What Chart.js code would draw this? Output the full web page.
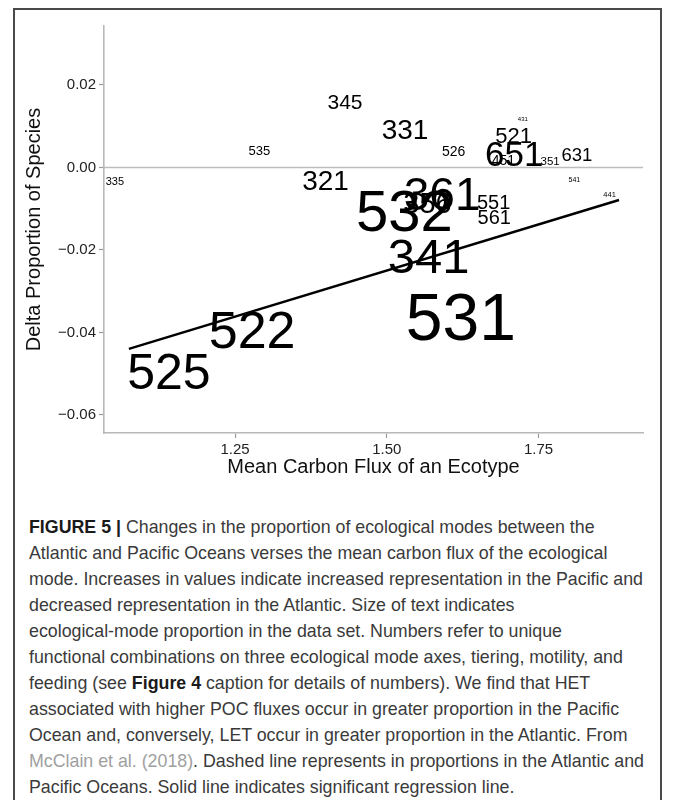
<!DOCTYPE html>
<html>
<head>
<meta charset="utf-8">
<script src="https://cdn.jsdelivr.net/npm/chart.js@4.4.1/dist/chart.umd.min.js"></script>
<style>
  body { margin: 0; background: #fff; }
  #page { position: relative; width: 673px; height: 800px; overflow: hidden; }
  .edge { position: absolute; background: #4a4a4a; }
  #c { position: absolute; left: 0; top: 0; }
  #caption { position: absolute; left: 29px; top: 514px; font-family: 'Liberation Sans', Arial, sans-serif; font-size: 18.5px; line-height: 26px; color: #3a3a3a; white-space: nowrap; transform-origin: 0 0; }
  #caption div span { display: inline-block; }
  #caption b { color: #1a1a1a; }
  .ref { color: #a0a0a0; }
</style>
</head>
<body>
<div id="page">
  <div class="edge" style="left:13px; top:8px; width:648px; height:1.5px;"></div>
  <div class="edge" style="left:13px; top:8px; width:1.5px; height:792px;"></div>
  <div class="edge" style="left:660px; top:8px; width:1.5px; height:792px;"></div>
  <canvas id="c" width="673" height="490"></canvas>
  <div id="caption">
    <div><span><b>FIGURE 5 |</b> Changes in the proportion of ecological modes between the</span></div>
    <div><span>Atlantic and Pacific Oceans verses the mean carbon flux of the ecological</span></div>
    <div><span id="widest">mode. Increases in values indicate increased representation in the Pacific and</span></div>
    <div><span>decreased representation in the Atlantic. Size of text indicates</span></div>
    <div><span>ecological-mode proportion in the data set. Numbers refer to unique</span></div>
    <div><span>functional combinations on three ecological mode axes, tiering, motility, and</span></div>
    <div><span>feeding (see <b>Figure 4</b> caption for details of numbers). We find that HET</span></div>
    <div><span>associated with higher POC fluxes occur in greater proportion in the Pacific</span></div>
    <div><span>Ocean and, conversely, LET occur in greater proportion in the Atlantic. From</span></div>
    <div><span><span class="ref">McClain et al. (2018)</span>. Dashed line represents in proportions in the Atlantic and</span></div>
    <div><span>Pacific Oceans. Solid line indicates significant regression line.</span></div>
  </div>
</div>
<script>
// ecological modes (label text), mean carbon flux, delta proportion, relative share (text size)
const modes      = ['335', '535', '345', '331', '321', '526', '356', '532', '361', '551', '561', '341', '531', '522', '525', '431', '521', '451', '651', '351', '631', '541', '441'];
const fluxX      = [1.052, 1.290, 1.431, 1.530, 1.399, 1.610, 1.567, 1.529, 1.591, 1.676, 1.677, 1.569, 1.622, 1.278, 1.141, 1.724, 1.709, 1.692, 1.710, 1.769, 1.813, 1.809, 1.867];
const deltaY     = [-0.0032, 0.0041, 0.0161, 0.0094, -0.0030, 0.0039, -0.0086, -0.0104, -0.0063, -0.0084, -0.0121, -0.0213, -0.0360, -0.0392, -0.0494, 0.0118, 0.0079, 0.0019, 0.0033, 0.0016, 0.0031, -0.0030, -0.0065];
const modeShare  = [1.1, 1.3, 2.1, 2.8, 2.8, 1.4, 2.9, 5.8, 4.6, 2.0, 2.0, 4.9, 6.6, 5.2, 5.0, 0.6, 2.2, 1.4, 3.5, 1.15, 1.85, 0.7, 0.75];

// significant regression line end points
const fitX = [1.075, 1.8825];
const fitY = [-0.0440, -0.0079];

// tick values
const xTicks = [1.25, 1.50, 1.75];
const yTicks = [-0.06, -0.04, -0.02, 0.00, 0.02];

const X_MIN = 1.034, X_MAX = 1.922;
const Y_MIN = -0.0644, Y_MAX = 0.0343;
const FAMILY = "'Liberation Sans', Arial, Helvetica, sans-serif";

const labelPoints = modes.map((m, i) => ({ x: fluxX[i], y: deltaY[i] }));

// draws the mode numbers as text, sized by their share
const textLabels = {
  id: 'textLabels',
  afterDatasetsDraw(chart) {
    const meta = chart.getDatasetMeta(2);
    const ctx = chart.ctx;
    ctx.save();
    ctx.fillStyle = '#000';
    ctx.textAlign = 'center';
    ctx.textBaseline = 'alphabetic';
    meta.data.forEach((el, i) => {
      const size = modeShare[i] * 10;
      ctx.font = `${size}px ${FAMILY}`;
      ctx.fillText(modes[i], el.x, el.y + 0.358 * size);
    });
    ctx.restore();
  }
};

const fmt = v => {
  const s = Math.abs(v).toFixed(2);
  return v < -1e-9 ? '\u2212' + s : s;
};

new Chart(document.getElementById('c'), {
  type: 'scatter',
  data: {
    datasets: [{
      type: 'line',
      data: [{ x: X_MIN, y: 0 }, { x: X_MAX, y: 0 }],
      borderColor: '#bdbdbd',
      borderWidth: 1.6,
      pointRadius: 0
    }, {
      type: 'line',
      data: fitX.map((x, i) => ({ x: x, y: fitY[i] })),
      borderColor: '#000',
      borderWidth: 2.4,
      pointRadius: 0
    }, {
      data: labelPoints,
      pointRadius: 0,
      showLine: false
    }]
  },
  options: {
    responsive: false,
    animation: false,
    layout: { padding: { top: 26, right: 30, left: 0, bottom: 0 } },
    plugins: { legend: { display: false }, tooltip: { enabled: false } },
    scales: {
      x: {
        type: 'linear',
        min: X_MIN,
        max: X_MAX,
        afterBuildTicks: s => { s.ticks = xTicks.map(v => ({ value: v })); },
        afterFit: s => { s.height = 57; },
        ticks: { callback: v => fmt(v), font: { size: 15, family: FAMILY }, color: '#222', padding: 3 },
        grid: { drawOnChartArea: false, drawTicks: true, tickLength: 5, tickColor: '#9a9a9a', tickWidth: 1.2 },
        border: { color: '#b8b8b8', width: 1.6 },
        title: { display: true, text: 'Mean Carbon Flux of an Ecotype', font: { size: 20, family: FAMILY }, color: '#111', padding: { top: 0, bottom: 11 } }
      },
      y: {
        type: 'linear',
        min: Y_MIN,
        max: Y_MAX,
        afterBuildTicks: s => { s.ticks = yTicks.map(v => ({ value: v })); },
        afterFit: s => { s.width = 104; },
        ticks: { callback: v => fmt(v), font: { size: 15, family: FAMILY }, color: '#222', padding: 3 },
        grid: { drawOnChartArea: false, drawTicks: true, tickLength: 5, tickColor: '#9a9a9a', tickWidth: 1.2 },
        border: { color: '#b8b8b8', width: 1.6 },
        title: { display: true, text: 'Delta Proportion of Species', font: { size: 20, family: FAMILY }, color: '#111', padding: { top: 22, bottom: 0 } }
      }
    }
  },
  plugins: [textLabels]
});

// squeeze caption horizontally so the widest line matches the figure width
const widest = document.getElementById('widest');
const k = 614 / widest.getBoundingClientRect().width;
document.getElementById('caption').style.transform = `scaleX(${k})`;
</script>
</body>
</html>
